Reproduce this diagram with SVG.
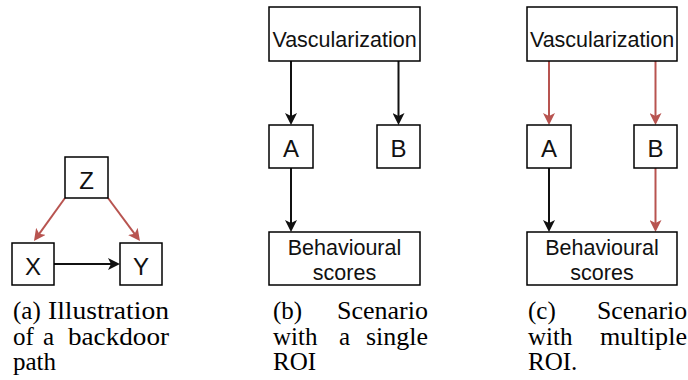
<svg xmlns="http://www.w3.org/2000/svg" width="688" height="380" viewBox="0 0 688 380">
<style>
.box{fill:#fff;stroke:#000;stroke-width:1.5}
.lbl{font-family:"Liberation Sans",Arial,Helvetica,sans-serif;fill:#111;text-anchor:middle}
.big{font-size:24px}
.mid{font-size:21.5px}
.cap{font-family:"Liberation Serif","Times New Roman",serif;font-size:25px;fill:#000}
.ek{fill:none;stroke:#111;stroke-width:2}
.er{fill:none;stroke:#b85450;stroke-width:2}
</style>
<defs>
<marker id="ak" markerUnits="userSpaceOnUse" viewBox="0 0 12 12" markerWidth="12" markerHeight="12" refX="8" refY="6" orient="auto">
<path d="M0,0 L12,6 L0,12 L3,6 Z" fill="#111"/>
</marker>
<marker id="ar" markerUnits="userSpaceOnUse" viewBox="0 0 12 12" markerWidth="12" markerHeight="12" refX="8" refY="6" orient="auto">
<path d="M0,0 L12,6 L0,12 L3,6 Z" fill="#b85450"/>
</marker>
</defs>
<g id="connectors">
<path class="er" d="M65,198 L36.3,237.8" marker-end="url(#ar)"/>
<path class="er" d="M108,198 L137.6,237.8" marker-end="url(#ar)"/>
<path class="ek" d="M54,264 L116,264" marker-end="url(#ak)"/>
<path class="ek" d="M291,61 L291,121" marker-end="url(#ak)"/>
<path class="ek" d="M398.5,61 L398.5,121" marker-end="url(#ak)"/>
<path class="ek" d="M291,168 L291,228" marker-end="url(#ak)"/>
<path class="er" d="M549,61 L549,121" marker-end="url(#ar)"/>
<path class="er" d="M655.5,61 L655.5,121" marker-end="url(#ar)"/>
<path class="ek" d="M549,168 L549,228" marker-end="url(#ak)"/>
<path class="er" d="M655.5,168 L655.5,228" marker-end="url(#ar)"/>
</g>
<g id="a-Z"><rect class="box" x="65" y="157" width="43" height="41"/><text class="lbl big" x="86.5" y="189">Z</text></g>
<g id="a-X"><rect class="box" x="12" y="243" width="42" height="42"/><text class="lbl big" x="33" y="275">X</text></g>
<g id="a-Y"><rect class="box" x="120" y="243" width="42" height="42"/><text class="lbl big" x="141" y="275">Y</text></g>
<g id="b-vasc"><rect class="box" x="269" y="7" width="151" height="54"/><text class="lbl mid" x="344.5" y="47">Vascularization</text></g>
<g id="b-A"><rect class="box" x="269" y="125" width="44" height="43"/><text class="lbl big" x="291" y="157">A</text></g>
<g id="b-B"><rect class="box" x="377" y="125" width="43" height="43"/><text class="lbl big" x="398.5" y="157">B</text></g>
<g id="b-behav"><rect class="box" x="269" y="232" width="151" height="53"/><text class="lbl mid" x="344.5" y="255">Behavioural</text><text class="lbl mid" x="344.5" y="280">scores</text></g>
<g id="c-vasc"><rect class="box" x="527" y="7" width="150" height="54"/><text class="lbl mid" x="602" y="47">Vascularization</text></g>
<g id="c-A"><rect class="box" x="527" y="125" width="44" height="43"/><text class="lbl big" x="549" y="157">A</text></g>
<g id="c-B"><rect class="box" x="634" y="125" width="43" height="43"/><text class="lbl big" x="655.5" y="157">B</text></g>
<g id="c-behav"><rect class="box" x="527" y="232" width="150" height="53"/><text class="lbl mid" x="602" y="255">Behavioural</text><text class="lbl mid" x="602" y="280">scores</text></g>
<g id="captions">
<text class="cap" y="319"><tspan x="13">(a)</tspan><tspan x="48" textLength="121" lengthAdjust="spacingAndGlyphs">Illustration</tspan></text>
<text class="cap" y="344.5"><tspan x="13">of</tspan><tspan x="43">a</tspan><tspan x="68" textLength="101" lengthAdjust="spacingAndGlyphs">backdoor</tspan></text>
<text class="cap" y="370"><tspan x="13">path</tspan></text>
<text class="cap" y="319"><tspan x="273">(b)</tspan><tspan x="337" textLength="91" lengthAdjust="spacingAndGlyphs">Scenario</tspan></text>
<text class="cap" y="344.5"><tspan x="273">with</tspan><tspan x="339">a</tspan><tspan x="366" textLength="62" lengthAdjust="spacingAndGlyphs">single</tspan></text>
<text class="cap" y="370"><tspan x="273">ROI</tspan></text>
<text class="cap" y="319"><tspan x="528">(c)</tspan><tspan x="597" textLength="90" lengthAdjust="spacingAndGlyphs">Scenario</tspan></text>
<text class="cap" y="344.5"><tspan x="528">with</tspan><tspan x="600" textLength="87" lengthAdjust="spacingAndGlyphs">multiple</tspan></text>
<text class="cap" y="370"><tspan x="528">ROI.</tspan></text>
</g>
</svg>
